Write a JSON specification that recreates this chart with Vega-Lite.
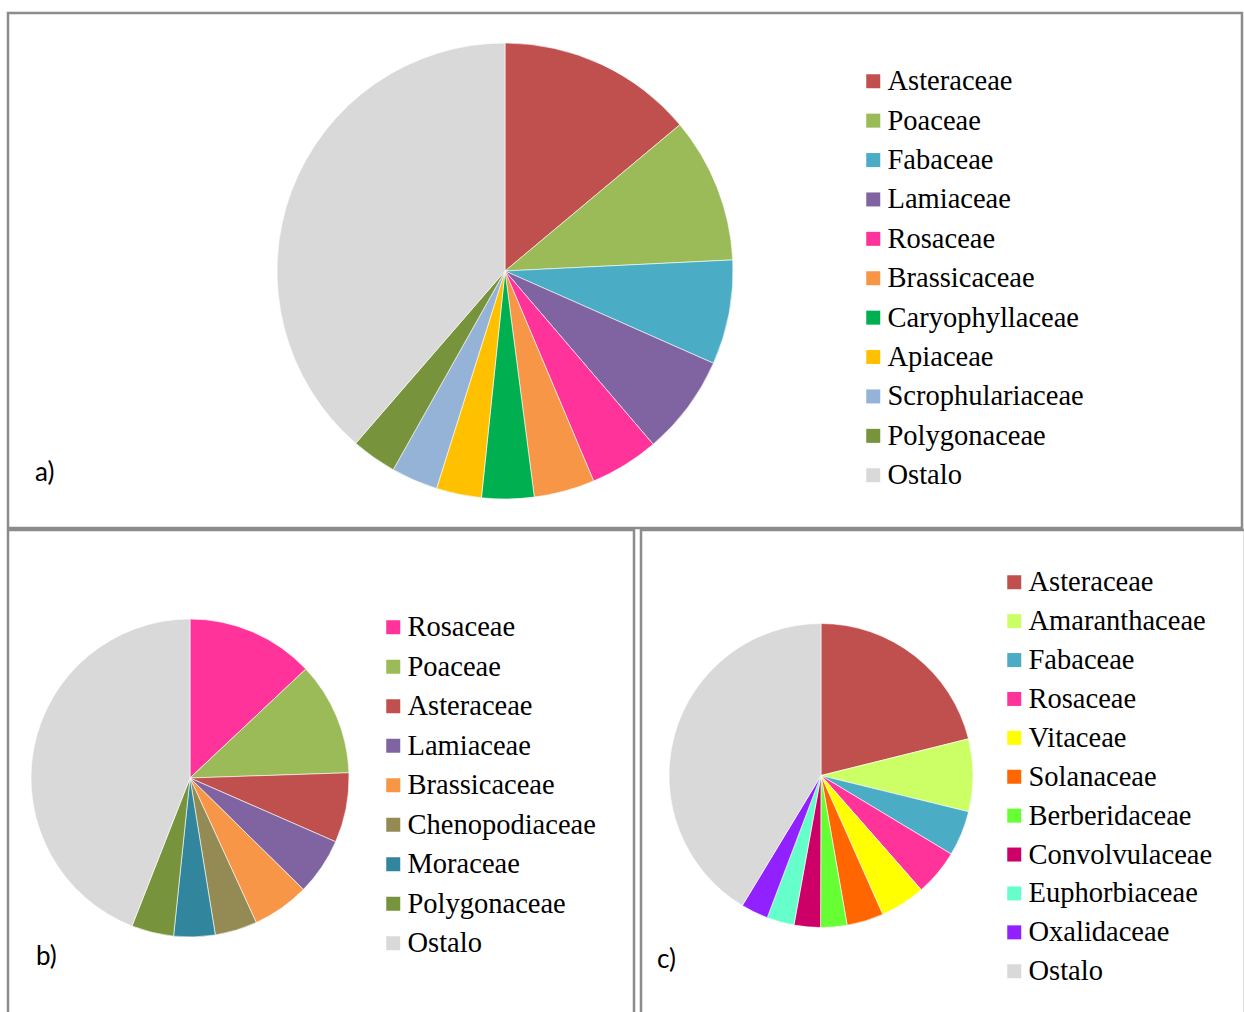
{
  "$schema": "https://vega.github.io/schema/vega-lite/v6.json",
  "padding": {"left": 6, "top": 11, "right": 0, "bottom": 0},
  "background": "white",
  "config": {
    "view": {"stroke": "#8c8c8c", "strokeWidth": 2.5},
    "legend": {
      "labelFont": "Liberation Serif",
      "labelFontSize": 28.5,
      "labelColor": "#000",
      "labelLimit": 400,
      "labelOffset": 0,
      "symbolType": "square",
      "symbolSize": 196,
      "symbolStrokeWidth": 0,
      "rowPadding": 10.4,
      "padding": 0
    },
    "title": {"font": "Lato", "fontSize": 26, "fontWeight": "normal", "color": "#000", "orient": "bottom", "anchor": "start"}
  },
  "spacing": -2,
  "resolve": {"scale": {"color": "independent"}, "legend": {"color": "independent"}},
  "vconcat": [
    {
      "width": 1234,
      "height": 515,
      "view": {"stroke": "#8c8c8c", "strokeWidth": 2.5},
      "title": {"text": "a)", "offset": -68, "dx": 27},
      "data": {"values": [
        {"n": 1, "family": "Asteraceae", "value": 13.9},
        {"n": 2, "family": "Poaceae", "value": 10.3},
        {"n": 3, "family": "Fabaceae", "value": 7.4},
        {"n": 4, "family": "Lamiaceae", "value": 7.1},
        {"n": 5, "family": "Rosaceae", "value": 4.9},
        {"n": 6, "family": "Brassicaceae", "value": 4.3},
        {"n": 7, "family": "Caryophyllaceae", "value": 3.7},
        {"n": 8, "family": "Apiaceae", "value": 3.2},
        {"n": 9, "family": "Scrophulariaceae", "value": 3.3},
        {"n": 10, "family": "Polygonaceae", "value": 3.2},
        {"n": 11, "family": "Ostalo", "value": 38.6}
      ]},
      "mark": {"type": "arc", "outerRadius": 228, "x": 497, "y": 258, "stroke": "#ffffff", "strokeWidth": 0.6},
      "encoding": {
        "theta": {"field": "value", "type": "quantitative", "stack": true},
        "order": {"field": "n", "type": "quantitative"},
        "color": {
          "field": "family", "type": "nominal",
          "scale": {
            "domain": ["Asteraceae", "Poaceae", "Fabaceae", "Lamiaceae", "Rosaceae", "Brassicaceae", "Caryophyllaceae", "Apiaceae", "Scrophulariaceae", "Polygonaceae", "Ostalo"],
            "range": ["#C0504D", "#9BBB59", "#4BACC6", "#8064A2", "#FF3399", "#F79646", "#00B050", "#FFC000", "#95B3D7", "#77933C", "#D9D9D9"]
          },
          "legend": {"title": null, "orient": "none", "legendX": 851, "legendY": 54, "rowPadding": 10.4}
        }
      }
    },
    {
      "spacing": 3,
      "resolve": {"scale": {"color": "independent"}, "legend": {"color": "independent"}},
      "hconcat": [
        {
          "width": 626,
          "height": 484,
          "view": {"stroke": "#8c8c8c", "strokeWidth": 2.5},
          "title": {"text": "b)", "offset": -70, "dx": 28},
          "data": {"values": [
            {"n": 1, "family": "Rosaceae", "value": 13.0},
            {"n": 2, "family": "Poaceae", "value": 11.5},
            {"n": 3, "family": "Asteraceae", "value": 7.1},
            {"n": 4, "family": "Lamiaceae", "value": 5.8},
            {"n": 5, "family": "Brassicaceae", "value": 5.8},
            {"n": 6, "family": "Chenopodiaceae", "value": 4.3},
            {"n": 7, "family": "Moraceae", "value": 4.2},
            {"n": 8, "family": "Polygonaceae", "value": 4.3},
            {"n": 9, "family": "Ostalo", "value": 44.1}
          ]},
          "mark": {"type": "arc", "outerRadius": 159, "x": 182, "y": 248, "stroke": "#ffffff", "strokeWidth": 0.6},
          "encoding": {
            "theta": {"field": "value", "type": "quantitative", "stack": true},
            "order": {"field": "n", "type": "quantitative"},
            "color": {
              "field": "family", "type": "nominal",
              "scale": {
                "domain": ["Rosaceae", "Poaceae", "Asteraceae", "Lamiaceae", "Brassicaceae", "Chenopodiaceae", "Moraceae", "Polygonaceae", "Ostalo"],
                "range": ["#FF3399", "#9BBB59", "#C0504D", "#8064A2", "#F79646", "#948A54", "#31859C", "#77933C", "#D9D9D9"]
              },
              "legend": {"title": null, "orient": "none", "legendX": 371, "legendY": 83, "rowPadding": 10.5}
            }
          }
        },
        {
          "width": 604,
          "height": 484,
          "view": {"stroke": "#8c8c8c", "strokeWidth": 2.5},
          "title": {"text": "c)", "offset": -67, "dx": 16},
          "data": {"values": [
            {"n": 1, "family": "Asteraceae", "value": 21.1},
            {"n": 2, "family": "Amaranthaceae", "value": 7.7},
            {"n": 3, "family": "Fabaceae", "value": 4.8},
            {"n": 4, "family": "Rosaceae", "value": 4.9},
            {"n": 5, "family": "Vitaceae", "value": 4.8},
            {"n": 6, "family": "Solanaceae", "value": 3.9},
            {"n": 7, "family": "Berberidaceae", "value": 2.8},
            {"n": 8, "family": "Convolvulaceae", "value": 2.8},
            {"n": 9, "family": "Euphorbiaceae", "value": 2.9},
            {"n": 10, "family": "Oxalidaceae", "value": 2.9},
            {"n": 11, "family": "Ostalo", "value": 41.3}
          ]},
          "mark": {"type": "arc", "outerRadius": 152, "x": 180, "y": 245.5, "stroke": "#ffffff", "strokeWidth": 0.6},
          "encoding": {
            "theta": {"field": "value", "type": "quantitative", "stack": true},
            "order": {"field": "n", "type": "quantitative"},
            "color": {
              "field": "family", "type": "nominal",
              "scale": {
                "domain": ["Asteraceae", "Amaranthaceae", "Fabaceae", "Rosaceae", "Vitaceae", "Solanaceae", "Berberidaceae", "Convolvulaceae", "Euphorbiaceae", "Oxalidaceae", "Ostalo"],
                "range": ["#C0504D", "#CCFF66", "#4BACC6", "#FF3399", "#FFFF00", "#FF6600", "#66FF33", "#CC0066", "#66FFCC", "#9122FF", "#D9D9D9"]
              },
              "legend": {"title": null, "orient": "none", "legendX": 359, "legendY": 38, "rowPadding": 9.9}
            }
          }
        }
      ]
    }
  ]
}
